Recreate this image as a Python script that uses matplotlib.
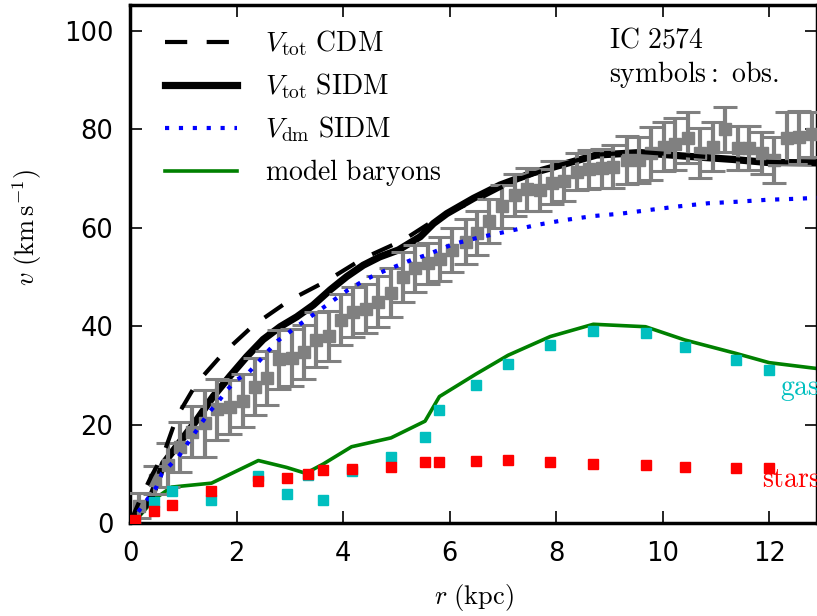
import numpy as np
import matplotlib
matplotlib.use("Agg")
import matplotlib.pyplot as plt

plt.rcParams["mathtext.fontset"] = "cm"
plt.rcParams["font.family"] = "DejaVu Sans"
plt.rcParams["lines.scale_dashes"] = False

# observed rotation curve (IC 2574)
r_obs = [0.17, 0.47, 0.72, 0.94, 1.16, 1.41, 1.64, 1.88, 2.12, 2.34, 2.57, 2.80,
         3.04, 3.27, 3.49, 3.74, 3.96, 4.19, 4.43, 4.66, 4.90, 5.13, 5.35, 5.60,
         5.82, 6.05, 6.30, 6.52, 6.75, 6.99, 7.22, 7.46, 7.69, 7.92, 8.15, 8.39,
         8.62, 8.86, 9.07, 9.33, 9.56, 9.78, 10.02, 10.23, 10.47, 10.70, 10.94,
         11.17, 11.41, 11.62, 11.87, 12.09, 12.33, 12.56, 12.80]
v_obs = [3.5, 8.7, 11.8, 15.5, 18.6, 20.3, 23.1, 23.6, 24.9, 27.7, 29.4, 33.3,
         33.6, 34.8, 37.3, 38.0, 41.3, 42.9, 43.6, 45.0, 46.8, 50.0, 51.8, 52.8,
         53.6, 55.5, 57.2, 59.0, 61.4, 64.4, 66.7, 67.8, 67.7, 69.2, 69.5, 71.4,
         71.9, 72.1, 72.4, 73.8, 73.8, 75.2, 76.5, 77.1, 78.3, 75.2, 76.5,
         80.0, 76.3, 76.2, 75.2, 73.8, 78.3, 78.4, 79.0]
e_obs = [2.5, 2.8, 4.4, 5.1, 5.2, 6.8, 6.2, 5.5, 5.3, 5.8, 5.5, 6.0,
         5.8, 5.5, 5.6, 5.0, 5.2, 5.0, 5.0, 5.2, 5.0, 5.0, 4.8, 4.2,
         4.5, 4.5, 4.5, 4.5, 4.5, 4.4, 4.2, 4.4, 4.2, 4.3, 4.0, 3.8,
         4.0, 4.0, 4.4, 4.8, 4.7, 5.4, 5.0, 5.3, 5.2, 5.0, 5.0,
         4.6, 4.5, 4.5, 4.3, 4.6, 5.3, 5.4, 4.5]

# observed baryon components
r_bar = [0.09, 0.45, 0.78, 1.53, 2.41, 2.94, 3.35, 3.63, 4.16, 4.90, 5.54, 5.81,
         6.50, 7.10, 7.89, 8.70, 9.68, 10.42, 11.37, 12.00]
v_gas = [0.3, 4.2, 6.6, 4.7, 9.6, 5.9, 9.8, 4.7, 10.5, 13.4, 17.4, 23.0,
         28.0, 32.3, 36.2, 39.0, 38.6, 35.8, 33.1, 31.1]
v_stars = [0.6, 2.4, 3.7, 6.6, 8.6, 9.1, 10.0, 10.8, 10.9, 11.3, 12.3, 12.3,
           12.7, 12.9, 12.3, 11.9, 11.7, 11.3, 11.1, 11.1]

# model baryons
r_mb = [0.0, 0.09, 0.45, 0.78, 1.53, 2.41, 2.94, 3.30, 3.63, 4.16, 4.90, 5.54, 5.81,
        6.50, 7.10, 7.89, 8.70, 9.68, 10.42, 11.37, 12.00, 12.90]
v_mb = [0.0, 0.3, 4.8, 7.3, 8.1, 12.7, 11.3, 10.1, 12.0, 15.5, 17.3, 20.7, 25.7,
        30.3, 34.1, 37.9, 40.4, 39.9, 37.2, 34.5, 32.6, 31.4]

# SIDM total
r_sidm = [0.0, 0.38, 0.63, 0.94, 1.25, 1.56, 1.88, 2.19, 2.50, 2.82, 3.13, 3.44,
          3.76, 4.07, 4.38, 4.69, 5.04, 5.45, 5.70, 5.95, 6.45, 6.95, 7.57, 8.20,
          8.76, 9.58, 10.39, 11.33, 11.96, 12.90]
v_sidm = [0.0, 4.7, 12.1, 16.5, 20.9, 25.7, 29.9, 33.8, 37.3, 39.9, 41.9, 44.3,
          47.4, 50.1, 52.4, 54.1, 55.5, 58.2, 60.9, 62.9, 66.0, 68.7, 71.2, 73.1,
          74.8, 75.3, 74.6, 73.9, 73.3, 73.2]

# CDM total
r_cdm = [0.0, 0.2, 0.4, 0.63, 0.88, 1.25, 1.75, 2.32, 3.0, 3.69, 4.38, 5.13,
         5.82, 6.57, 7.2, 8.0, 8.8, 9.6, 10.4, 11.3, 12.0, 12.9]
v_cdm = [0.0, 5.0, 9.5, 14.0, 21.6, 28.4, 34.5, 40.2, 45.3, 49.2, 53.8, 57.5,
         62.3, 66.0, 69.5, 72.6, 74.9, 75.4, 74.8, 74.0, 73.4, 73.2]

# SIDM dark matter
r_dm = [0.0, 0.5, 0.6, 0.91, 1.47, 1.66, 1.82, 2.0, 2.22, 2.40, 2.58, 2.77, 2.98,
        3.19, 3.41, 3.63, 3.85, 4.07, 4.30, 4.54, 4.79, 5.04, 5.29, 5.57, 6.07,
        6.57, 7.10, 7.64, 8.17, 8.70, 9.23, 9.80, 10.33, 10.86, 11.39, 11.96,
        12.49, 12.90]
v_dm = [0.0, 7.4, 10.1, 13.5, 22.3, 24.7, 27.0, 29.1, 30.5, 32.6, 34.8, 37.0, 38.7,
        40.4, 42.1, 43.8, 45.5, 47.2, 48.7, 50.1, 51.3, 52.4, 53.5, 54.5, 56.7,
        58.1, 59.3, 60.6, 61.6, 62.4, 62.9, 63.7, 64.4, 65.0, 65.3, 65.7,
        65.9, 66.1]

fig = plt.figure(figsize=(8.17, 6.16), dpi=100)
ax = fig.add_axes([130 / 817, 93 / 616, 687 / 817, 518 / 616])

ax.plot(r_mb, v_mb, color="g", lw=2.6, label=r"$\mathrm{model\ baryons}$", zorder=2)
ax.plot(r_sidm, v_sidm, color="k", lw=5.2, label=r"$V_{\rm tot}\ \mathrm{SIDM}$", zorder=3)
ax.errorbar(r_obs, v_obs, yerr=e_obs, fmt="s", color="gray", ms=9, mec="gray",
            elinewidth=3, capsize=8.5, capthick=2.2, zorder=4)
ax.plot(r_cdm, v_cdm, color="k", lw=3, dashes=(16, 14), label=r"$V_{\rm tot}\ \mathrm{CDM}$", zorder=5)
ax.plot(r_dm, v_dm, color="b", lw=3, dashes=(3, 7), label=r"$V_{\rm dm}\ \mathrm{SIDM}$", zorder=5)
ax.plot(r_bar, v_gas, "s", color="c", mec="c", ms=7.5, zorder=6)
ax.plot(r_bar, v_stars, "s", color="r", mec="r", ms=7.5, zorder=7)

# labels run off the right edge, as in the original figure
ax.text(12.2, 26, r"$\mathrm{gas}$", color="c", fontsize=20, va="baseline")
ax.text(11.87, 7.3, r"$\mathrm{stars}$", color="r", fontsize=20, va="baseline")
ax.text(9.0, 96.7, r"$\mathrm{IC\ 2574}$", fontsize=20, va="baseline")
ax.text(9.0, 89.6, r"$\mathrm{symbols}:\ \mathrm{obs.}$", fontsize=20, va="baseline")

ax.set_xlim(0, 12.9)
ax.set_ylim(0, 105.3)
ax.set_xticks(np.arange(0, 13, 2))
ax.set_yticks(np.arange(0, 101, 20))
ax.tick_params(direction="in", top=True, right=True, length=8.5, width=1.2,
               labelsize=18.5)
ax.tick_params(axis="x", pad=13)
ax.tick_params(axis="y", pad=12)
for s in ax.spines.values():
    s.set_linewidth(2.5)

ax.set_xlabel(r"$r\ (\mathrm{kpc})$", fontsize=19, labelpad=11)
ax.set_ylabel(r"$v\ (\mathrm{km\,s^{-1}})$", fontsize=19)
ax.yaxis.set_label_coords(-0.125, 0.57)

h, l = ax.get_legend_handles_labels()
order = [2, 1, 3, 0]
ax.legend([h[i] for i in order], [l[i] for i in order], loc="upper left",
          bbox_to_anchor=(0.051, 0.955), borderaxespad=0, borderpad=0,
          frameon=False, fontsize=20, handlelength=2.6, handletextpad=1.0,
          labelspacing=0.48)

fig.savefig("out.png", dpi=100)
